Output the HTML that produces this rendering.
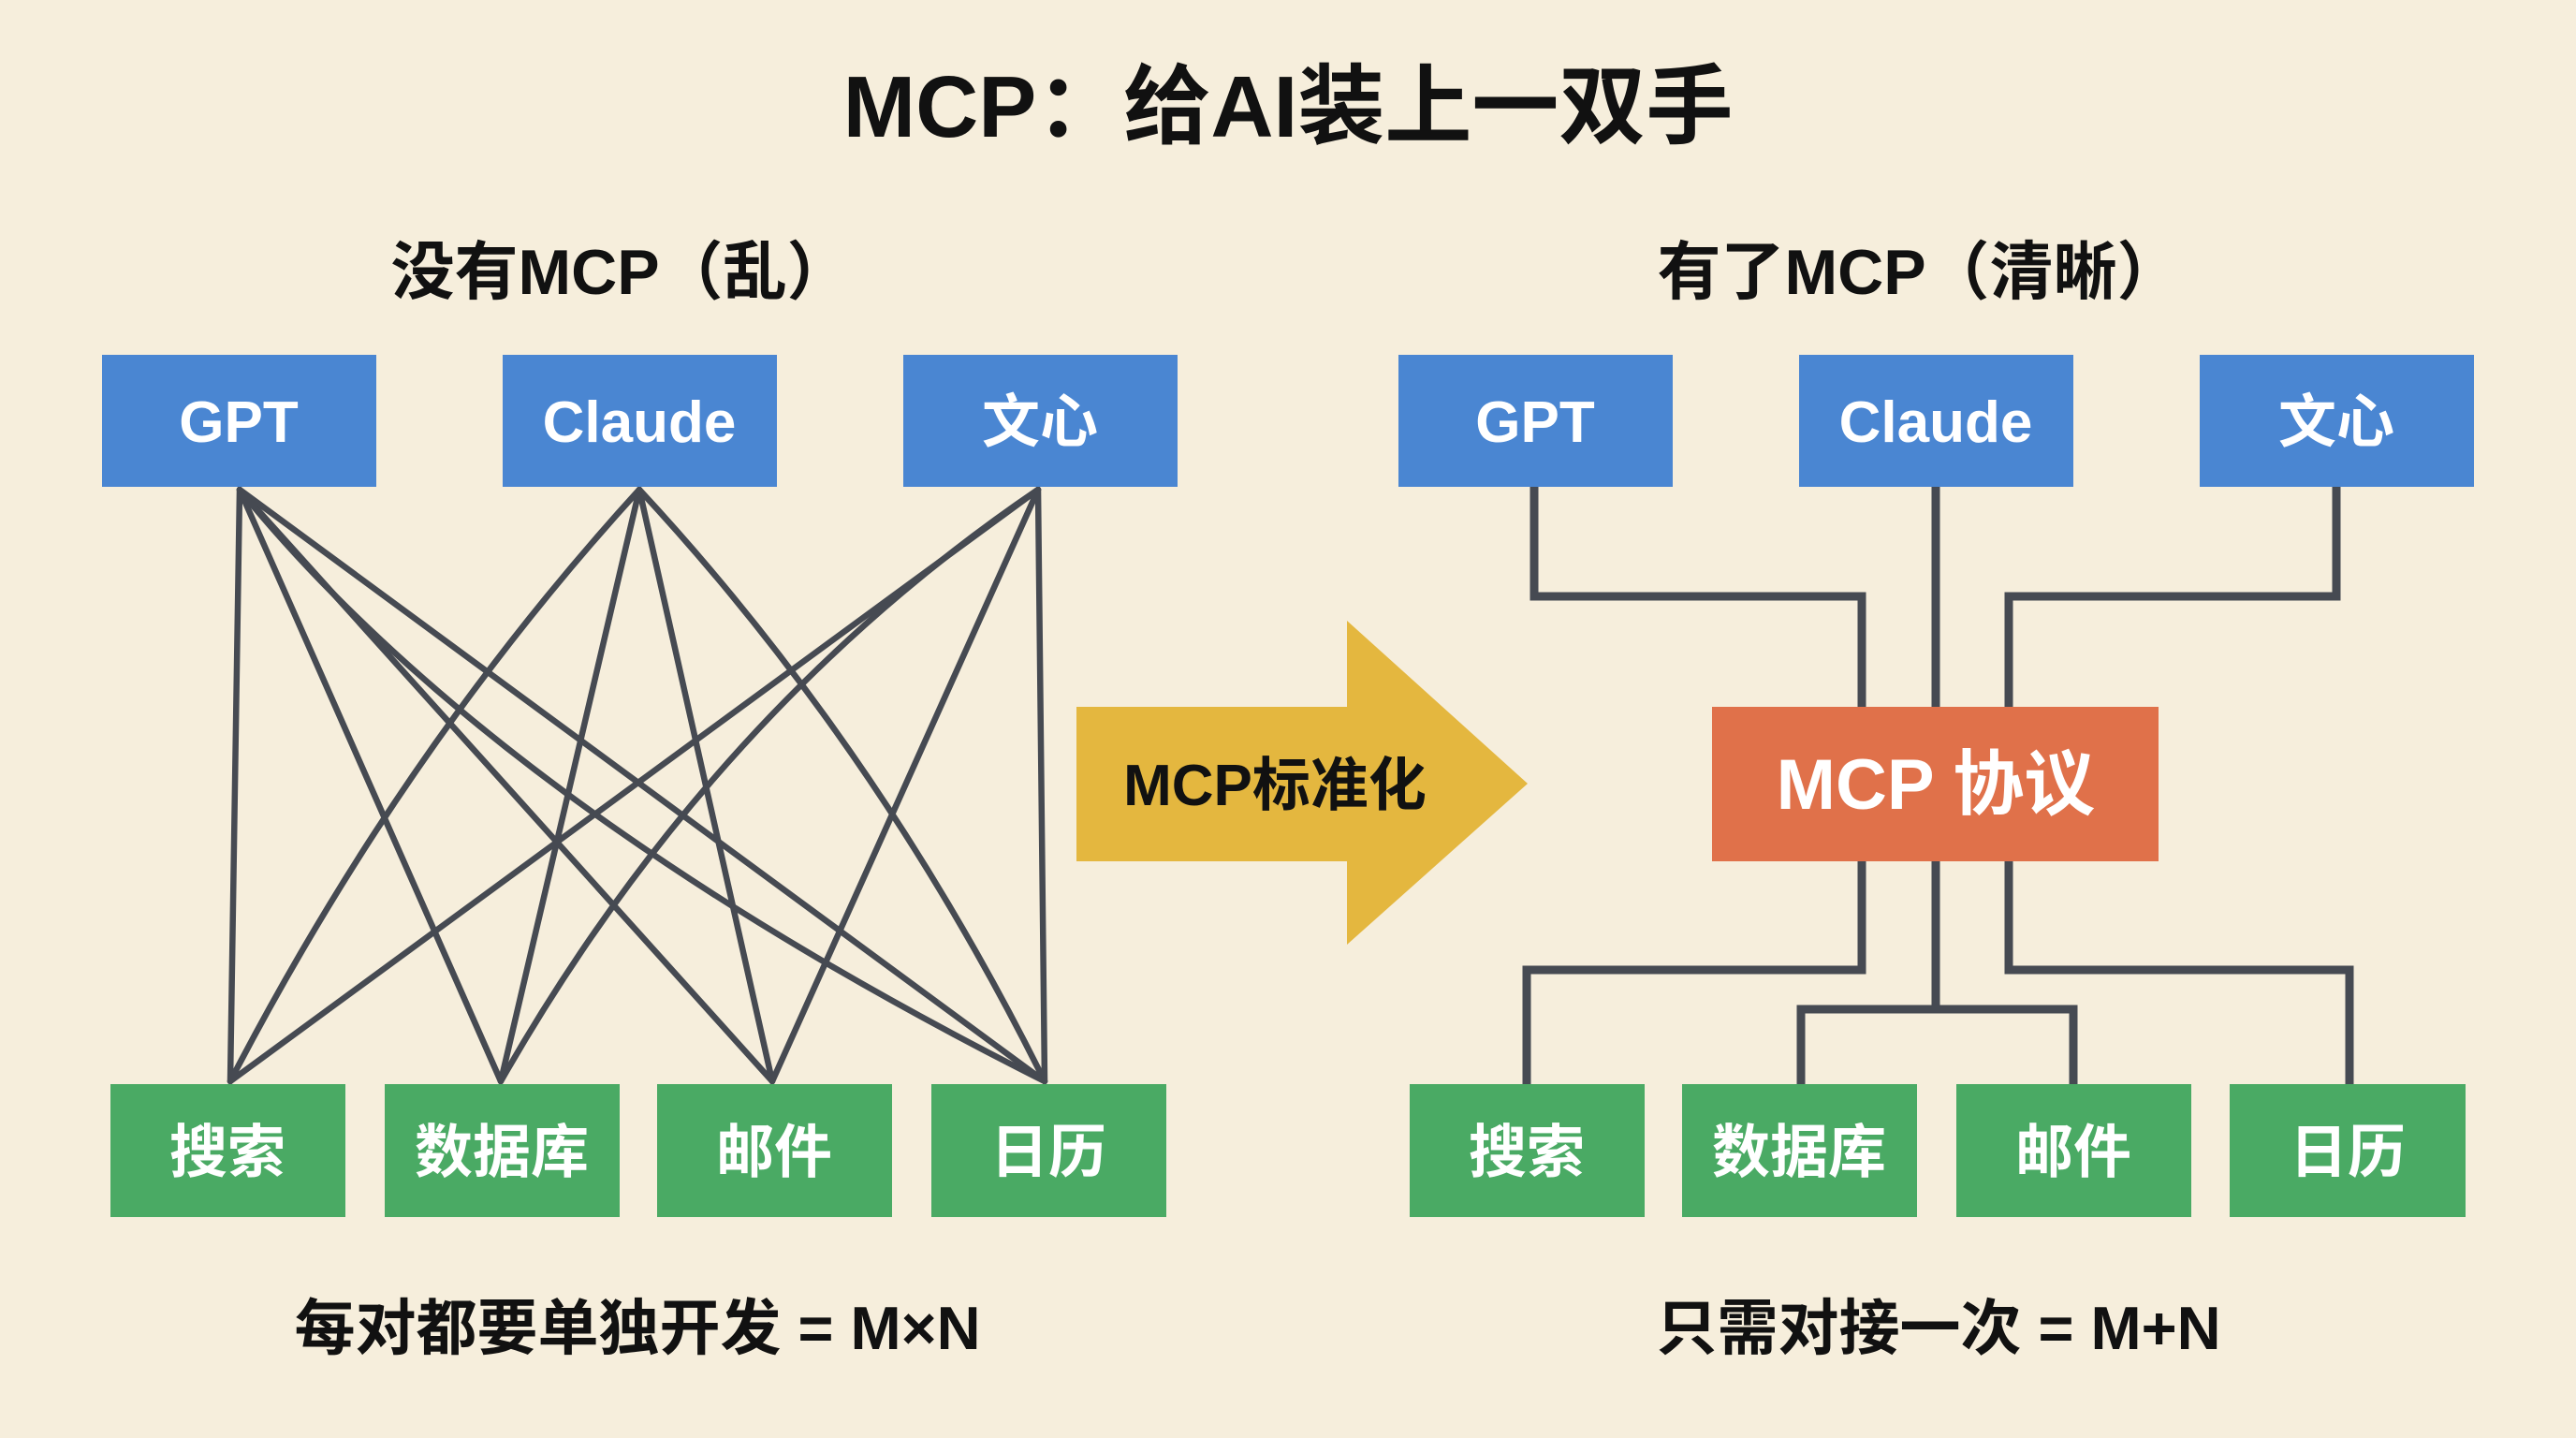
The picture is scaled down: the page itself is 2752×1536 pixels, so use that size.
<!DOCTYPE html>
<html><head><meta charset="utf-8"><style>
html,body{margin:0;padding:0;background:#f6eedc;}
svg{display:block}
text{font-family:"Liberation Sans","Noto Sans CJK SC",sans-serif;font-weight:bold;}
</style></head><body>
<svg width="2752" height="1536" viewBox="0 0 2752 1536" xmlns="http://www.w3.org/2000/svg">
<rect width="2752" height="1536" fill="#f6eedc"/>
<text x="1376" y="146" font-size="93" text-anchor="middle" fill="#111">MCP：给AI装上一双手</text>
<text x="663" y="314" font-size="68" text-anchor="middle" fill="#111">没有MCP（乱）</text>
<text x="2050" y="314" font-size="68" text-anchor="middle" fill="#111">有了MCP（清晰）</text>

<g stroke="#464a52" stroke-width="6.5" fill="none" stroke-linecap="round">
<line x1="256" y1="523" x2="246" y2="1155"/>
<line x1="256" y1="523" x2="535" y2="1155"/>
<line x1="256" y1="523" x2="825" y2="1155"/>
<line x1="256" y1="523" x2="1116" y2="1155"/>
<path d="M683 523 Q430 800 246 1155"/>
<line x1="683" y1="523" x2="535" y2="1155"/>
<line x1="683" y1="523" x2="825" y2="1155"/>
<path d="M683 523 Q940 800 1116 1155"/>
<line x1="1109" y1="523" x2="246" y2="1155"/>
<path d="M1109 523 Q760 760 535 1155"/>
<line x1="1109" y1="523" x2="825" y2="1155"/>
<line x1="1109" y1="523" x2="1116" y2="1155"/>
<path d="M256 523 Q530 860 1116 1155"/>
</g>

<g stroke="#464a52" stroke-width="9" fill="none">
<polyline points="1639,520 1639,637 1989,637 1989,755"/>
<line x1="2068" y1="520" x2="2068" y2="755"/>
<polyline points="2496,520 2496,637 2146,637 2146,755"/>
<polyline points="1989,920 1989,1036 1631,1036 1631,1158"/>
<line x1="2068" y1="920" x2="2068" y2="1078"/>
<polyline points="1924,1158 1924,1078 2215,1078 2215,1158"/>
<polyline points="2146,920 2146,1036 2510,1036 2510,1158"/>
</g>

<g fill="#4a86d2">
<rect x="109" y="379" width="293" height="141"/>
<rect x="537" y="379" width="293" height="141"/>
<rect x="965" y="379" width="293" height="141"/>
<rect x="1494" y="379" width="293" height="141"/>
<rect x="1922" y="379" width="293" height="141"/>
<rect x="2350" y="379" width="293" height="141"/>
</g>
<g fill="#4aaa64">
<rect x="118" y="1158" width="251" height="142"/>
<rect x="411" y="1158" width="251" height="142"/>
<rect x="702" y="1158" width="251" height="142"/>
<rect x="995" y="1158" width="251" height="142"/>
<rect x="1506" y="1158" width="251" height="142"/>
<rect x="1797" y="1158" width="251" height="142"/>
<rect x="2090" y="1158" width="251" height="142"/>
<rect x="2382" y="1158" width="252" height="142"/>
</g>
<g fill="#fff" font-size="62" text-anchor="middle">
<text x="255" y="472">GPT</text>
<text x="683" y="472">Claude</text>
<text x="1111" y="472">文心</text>
<text x="1640" y="472">GPT</text>
<text x="2068" y="472">Claude</text>
<text x="2496" y="472">文心</text>
<text x="243" y="1252">搜索</text>
<text x="536" y="1252">数据库</text>
<text x="827" y="1252">邮件</text>
<text x="1120" y="1252">日历</text>
<text x="1631" y="1252">搜索</text>
<text x="1922" y="1252">数据库</text>
<text x="2215" y="1252">邮件</text>
<text x="2508" y="1252">日历</text>
</g>

<polygon points="1150,755 1439,755 1439,663 1632,837 1439,1009 1439,920 1150,920" fill="#e4b73f"/>
<text x="1362" y="860" font-size="62" text-anchor="middle" fill="#111">MCP标准化</text>

<rect x="1829" y="755" width="477" height="165" fill="#e0714a"/>
<text x="2068" y="864" font-size="76" text-anchor="middle" fill="#fff">MCP 协议</text>

<text x="681" y="1441" font-size="65" text-anchor="middle" fill="#111">每对都要单独开发 = M×N</text>
<text x="2071" y="1441" font-size="65" text-anchor="middle" fill="#111">只需对接一次 = M+N</text>
</svg>
</body></html>
